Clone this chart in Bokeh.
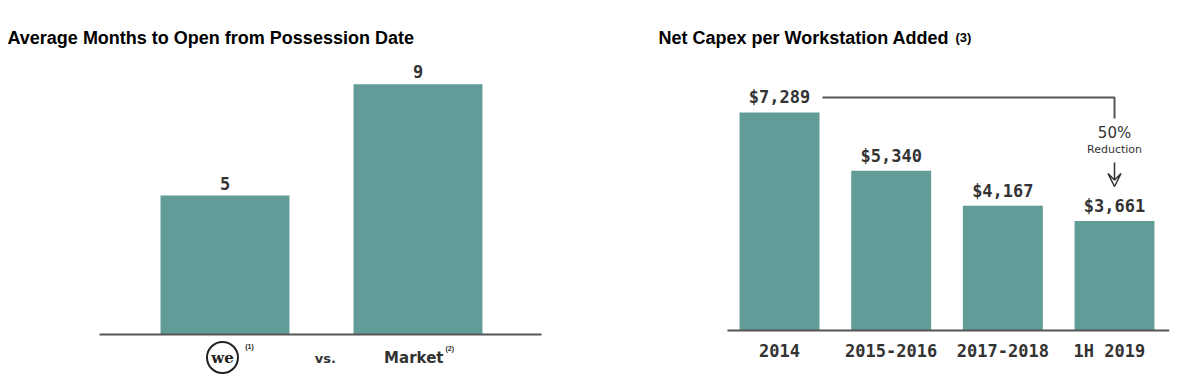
from bokeh.plotting import figure
from bokeh.layouts import row
from bokeh.models import Range1d, Arrow, VeeHead
from bokeh.core.properties import value
from bokeh.embed import file_html
from bokeh.resources import INLINE

# ---------------- data ----------------
left_title = "Average Months to Open from Possession Date"
left_categories = ["we", "Market"]
left_values = [5, 9]
left_value_labels = ["5", "9"]

right_title = "Net Capex per Workstation Added"
right_title_note = "(3)"
right_categories = ["2014", "2015-2016", "2017-2018", "1H  2019"]
right_values = [7289, 5340, 4167, 3661]
right_value_labels = ["$7,289", "$5,340", "$4,167", "$3,661"]
reduction_pct = "50%"
reduction_word = "Reduction"

BAR = "#619c99"
INK = "#333333"
LINE = "#555555"
MONO = "DejaVu Sans Mono"
SANS = "Liberation Sans"
LBL = "DejaVu Sans"

W, H = 594, 382


def base_fig(xr, yr):
    p = figure(width=W, height=H, x_range=xr, y_range=yr,
               output_backend="svg", toolbar_location=None,
               min_border=0, min_border_left=0, min_border_right=0,
               min_border_top=0, min_border_bottom=0)
    p.axis.visible = False
    p.grid.visible = False
    p.outline_line_color = None
    p.background_fill_color = "white"
    p.border_fill_color = "white"
    return p


# ---------------- left chart ----------------
lx_px = 193.0          # px per category step
lx_c0 = 224.5          # px of first category centre
ly_px = 27.8           # px per month
ly_base = 334.0        # px of baseline from top
lxr = Range1d(-lx_c0 / lx_px, (W - lx_c0) / lx_px)
lyr = Range1d(-(H - ly_base) / ly_px, ly_base / ly_px)
pl = base_fig(lxr, lyr)

lx = list(range(len(left_categories)))
pl.vbar(x=lx, top=left_values, bottom=0, width=0.668, fill_color=BAR, line_color=None)
pad_l = 0.65
pl.segment(x0=[lx[0] - pad_l], y0=[0], x1=[lx[-1] + pad_l - 0.01], y1=[0],
           line_color=LINE, line_width=2)
pl.text(x=lx, y=left_values, text=left_value_labels, y_offset=-6,
        text_align="center", text_baseline="bottom", text_color=INK,
        text_font=value(MONO), text_font_style="bold", text_font_size=value("17px"))

# title
pl.text(x=[lxr.start], y=[lyr.end], text=[left_title], x_offset=7, y_offset=37,
        text_align="left", text_baseline="alphabetic", text_color="black",
        text_font=value(SANS), text_font_style="bold", text_font_size=value("18px"))

# category labels: "we" logo, "vs.", "Market"
logo_x = lx[0] - 0.013
pl.scatter(x=[logo_x], y=[-23 / ly_px], marker="circle", size=31,
           fill_color="white", line_color="#222222", line_width=2)
pl.text(x=[logo_x], y=[0], text=["we"], y_offset=23,
        text_align="center", text_baseline="middle", text_color="#222222",
        text_font=value("DejaVu Serif"), text_font_style="bold", text_font_size=value("15px"))
pl.text(x=[lx[0] + 0.105], y=[0], text=["(1)"], y_offset=12,
        text_align="left", text_baseline="middle", text_color="#222222",
        text_font=value(SANS), text_font_style="bold", text_font_size=value("7px"))
pl.text(x=[(lx[0] + lx[1]) / 2 + 0.02], y=[0], text=["vs."], y_offset=24,
        text_align="center", text_baseline="middle", text_color=INK,
        text_font=value(LBL), text_font_style="bold", text_font_size=value("13px"))
pl.text(x=[lx[1] + 0.132], y=[0], text=[left_categories[1]], y_offset=23,
        text_align="right", text_baseline="middle", text_color=INK,
        text_font=value(LBL), text_font_style="bold", text_font_size=value("15px"))
pl.text(x=[lx[1] + 0.142], y=[0], text=["(2)"], y_offset=14,
        text_align="left", text_baseline="middle", text_color=INK,
        text_font=value(SANS), text_font_style="bold", text_font_size=value("7px"))

# ---------------- right chart ----------------
rx_px = 111.67
rx_c0 = 185.0
ry_per_px = 33.43      # dollars per px
ry_base = 330.0
rxr = Range1d(-rx_c0 / rx_px, (W - rx_c0) / rx_px)
ryr = Range1d(-(H - ry_base) * ry_per_px, ry_base * ry_per_px)
pr = base_fig(rxr, ryr)

rx = list(range(len(right_categories)))
pr.vbar(x=rx, top=right_values, bottom=0, width=0.716, fill_color=BAR, line_color=None)
pr.segment(x0=[rx[0] - 0.466], y0=[0], x1=[rx[-1] + 0.49], y1=[0],
           line_color=LINE, line_width=2)
pr.text(x=rx, y=right_values, text=right_value_labels, y_offset=-5,
        text_align="center", text_baseline="bottom", text_color=INK,
        text_font=value(MONO), text_font_style="bold", text_font_size=value("17px"))
pr.text(x=rx, y=[0] * len(rx), text=right_categories, y_offset=20,
        text_align="center", text_baseline="middle", text_color=INK,
        text_font=value(MONO), text_font_style="bold", text_font_size=value("17px"))

# title
pr.text(x=[rxr.start], y=[ryr.end], text=[right_title], x_offset=64, y_offset=37,
        text_align="left", text_baseline="alphabetic", text_color="black",
        text_font=value(SANS), text_font_style="bold", text_font_size=value("18px"))
pr.text(x=[rxr.start], y=[ryr.end], text=[right_title_note], x_offset=361, y_offset=37,
        text_align="left", text_baseline="alphabetic", text_color="black",
        text_font=value(SANS), text_font_style="bold", text_font_size=value("13px"))

# reduction bracket
top_y = right_values[0] + 15 * ry_per_px
drop_y = top_y - 21 * ry_per_px
pr.line(x=[rx[0] + 0.385, rx[-1], rx[-1]], y=[top_y, top_y, drop_y],
        line_color=LINE, line_width=2)
pr.text(x=[rx[-1]], y=[top_y], text=[reduction_pct], y_offset=36,
        text_align="center", text_baseline="middle", text_color=INK,
        text_font=value(LBL), text_font_size=value("15px"))
pr.text(x=[rx[-1]], y=[top_y], text=[reduction_word], y_offset=52,
        text_align="center", text_baseline="middle", text_color=INK,
        text_font=value(LBL), text_font_size=value("11px"))
pr.add_layout(Arrow(x_start=rx[-1], y_start=top_y - 65 * ry_per_px,
                    x_end=rx[-1], y_end=top_y - 89 * ry_per_px,
                    line_color=INK, line_width=1.5,
                    end=VeeHead(size=13, line_color=INK, line_width=1.5, fill_color=None)))

layout = row(pl, pr, spacing=0)
open("out.html", "w").write(file_html(layout, INLINE))
